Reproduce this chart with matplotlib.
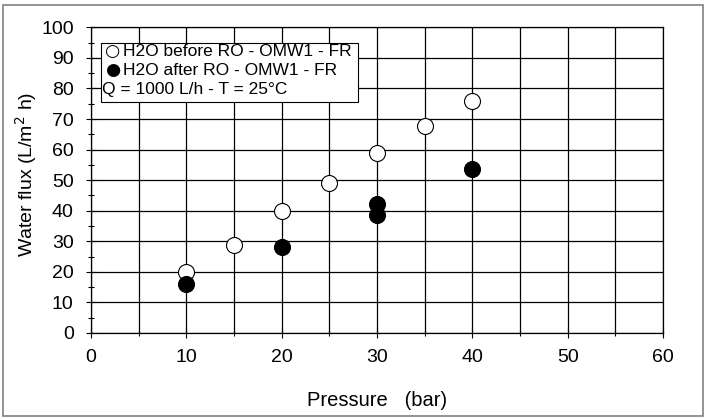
import numpy as np
import matplotlib.pyplot as plt
from matplotlib.patches import Rectangle
from matplotlib.ticker import MultipleLocator

plt.rcParams['font.family'] = ['Liberation Sans', 'DejaVu Sans']

# H2O flux before RO (open circles)
p_before = [10, 15, 20, 25, 30, 35, 40]
flux_before = [20, 28.8, 40, 49, 59, 67.7, 76]

# H2O flux after RO (filled circles)
p_after = [10, 20, 30, 30, 40]
flux_after = [16, 28, 42.3, 38.6, 53.7]

legend_labels = ['H2O before RO - OMW1 - FR', 'H2O after RO - OMW1 - FR']
legend_note = 'Q = 1000 L/h - T = 25\u00b0C'

fig = plt.figure(figsize=(7.07, 4.19), dpi=100)
ax = fig.add_axes([0.1287, 0.2053, 0.8091, 0.7295])

ax.plot(p_before, flux_before, 'o', ms=11.5, mfc='white', mec='black', mew=0.8, zorder=3)
ax.plot(p_after, flux_after, 'o', ms=11.5, mfc='black', mec='black', mew=0.8, zorder=3)

ax.set_xlim(0, 60)
ax.set_ylim(0, 100)
ax.xaxis.set_major_locator(MultipleLocator(10))
ax.xaxis.set_minor_locator(MultipleLocator(5))
ax.yaxis.set_major_locator(MultipleLocator(10))
ax.yaxis.set_minor_locator(MultipleLocator(5))

ax.grid(True, which='major', color='black', lw=0.9)
ax.grid(True, which='minor', axis='x', color='black', lw=0.9)
ax.tick_params(which='major', direction='inout', length=7, width=0.8, labelsize=14)
ax.tick_params(axis='x', which='major', pad=8)
ax.tick_params(axis='y', which='major', pad=9)
ax.tick_params(which='minor', direction='inout', length=5, width=0.8)
for s in ax.spines.values():
    s.set_color('black')
    s.set_linewidth(0.9)

ax.set_xlabel('Pressure   (bar)', fontsize=14.5, labelpad=18)
ax.set_ylabel('Water flux (L/m$^2$ h)', fontsize=14)
ax.yaxis.set_label_coords(-0.091, 0.52)

# legend box drawn by hand (third line has no symbol)
ax.add_patch(Rectangle((0.0175, 0.757), 0.45, 0.193, transform=ax.transAxes,
                       fc='white', ec='black', lw=0.8, zorder=5))
rows = [0.922, 0.859]
for sym, lab, y in zip(['\u25cb', '\u25cf'], legend_labels, rows):
    ax.text(0.0385, y, sym, transform=ax.transAxes, fontsize=12.5, family='DejaVu Sans',
            ha='center', va='center', zorder=6)
    ax.text(0.056, y, lab, transform=ax.transAxes, fontsize=12.5,
            ha='left', va='center', zorder=6)
ax.text(0.019, 0.795, legend_note, transform=ax.transAxes, fontsize=12.5,
        ha='left', va='center', zorder=6)

fig.patches.append(Rectangle((0.004, 0.007), 0.99, 0.98, transform=fig.transFigure,
                             fill=False, ec='#808080', lw=1.2))

fig.savefig('out.png', dpi=100)
